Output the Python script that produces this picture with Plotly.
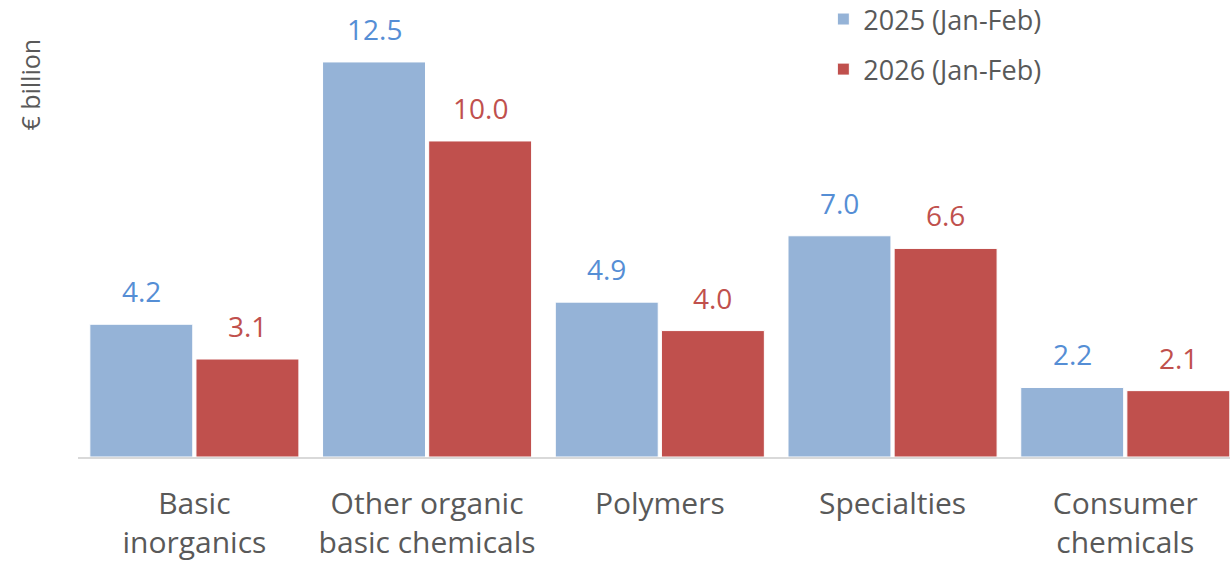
import plotly.graph_objects as go

categories = ["Basic<br>inorganics", "Other organic<br>basic chemicals", "Polymers", "Specialties", "Consumer<br>chemicals"]
values_2025 = [4.2, 12.5, 4.9, 7.0, 2.2]
values_2026 = [3.1, 10.0, 4.0, 6.6, 2.1]
series_names = ["2025 (Jan-Feb)", "2026 (Jan-Feb)"]

bar_colors = ["#95B3D7", "#C0504D"]
label_colors = ["#558ED5", "#C0504D"]
FONT = "Open Sans"
BARGAP = 0.088
GROUPGAP = 0.03
CAT_PX = 1152 / 4.955  # pixels per category

fig = go.Figure()
for i, (name, vals) in enumerate(zip(series_names, [values_2025, values_2026])):
    fig.add_trace(go.Bar(
        x=categories, y=vals, name=name,
        marker=dict(color=bar_colors[i], line=dict(color="white", width=1)),
        legendgroup=f"g{i}",
    ))

# value labels above the bars
annotations = []
half = (1 - BARGAP) / 2 * CAT_PX  # width of one bar slot in px
for i, vals in enumerate([values_2025, values_2026]):
    shift = (-0.5 + i) * half
    for c, v in zip(categories, vals):
        annotations.append(dict(
            x=c, y=v, xref="x", yref="y", text=f"{v:.1f}", showarrow=False,
            xanchor="center", yanchor="bottom", xshift=shift, yshift=12,
            font=dict(family=FONT, size=28, color=label_colors[i]),
        ))

annotations.append(dict(
    text="€ billion", textangle=-90, xref="paper", yref="paper",
    x=-0.042, y=0.814, xanchor="center", yanchor="middle", showarrow=False,
    font=dict(family=FONT, size=25, color="#595959"),
))

fig.update_layout(
    width=1230, height=571,
    margin=dict(l=78, r=0, t=0, b=114, autoexpand=False),
    paper_bgcolor="white", plot_bgcolor="white",
    barmode="group", bargap=BARGAP, bargroupgap=GROUPGAP,
    font=dict(family=FONT, color="#595959"),
    legend=dict(
        x=0.647, xanchor="left", y=1.011, yanchor="top",
        font=dict(family=FONT, size=27, color="#595959"),
        tracegroupgap=12, traceorder="grouped",
        bgcolor="rgba(0,0,0,0)",
    ),
    xaxis=dict(
        range=[-0.5, 4.45],
        showline=True, linecolor="#D9D9D9", linewidth=2,
        ticks="outside", ticklen=19, tickcolor="rgba(0,0,0,0)",
        tickfont=dict(family=FONT, size=30, color="#595959"),
        showgrid=False, fixedrange=True, automargin=False,
    ),
    yaxis=dict(
        range=[0, 14.46], showgrid=False, showticklabels=False,
        zeroline=False, showline=False, ticks="", fixedrange=True, automargin=False,
    ),
    annotations=annotations,
)

fig.write_html("out.html", config={"displayModeBar": False},
               post_script="document.body.style.margin='0';document.body.style.overflow='hidden';")
